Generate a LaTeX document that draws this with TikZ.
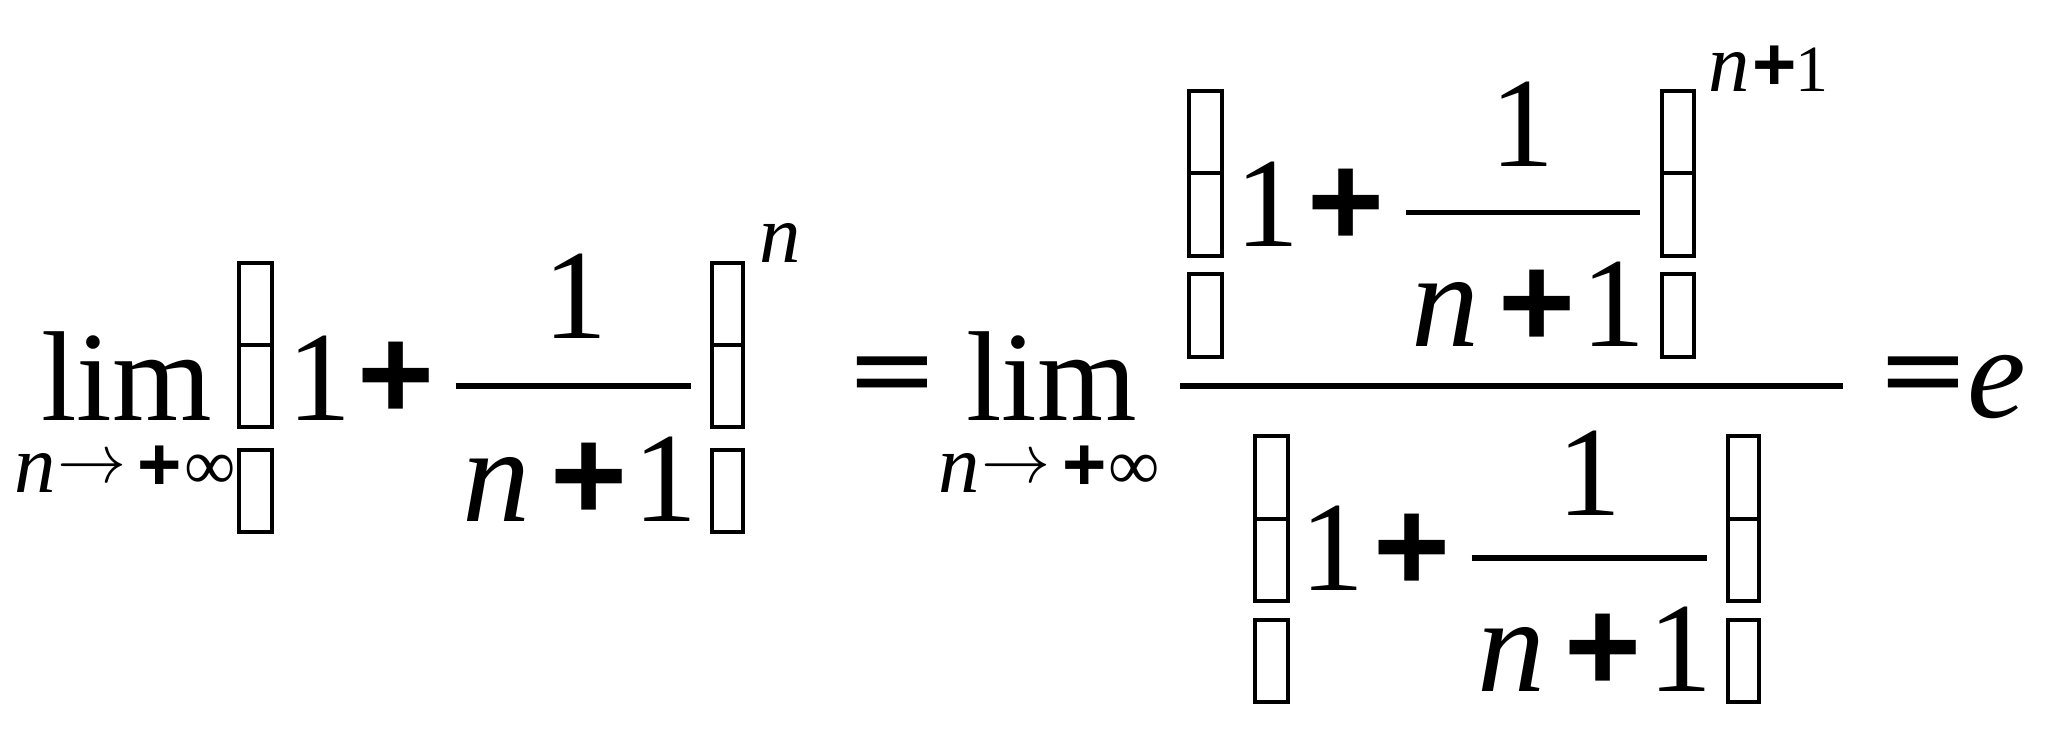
\documentclass[tikz,border=0pt]{standalone}
\usepackage{fontspec}
\setmainfont{Liberation Serif}
\newfontfamily\plusfamily{Liberation Sans}
\newfontfamily\eqfamily{DejaVu Serif}
\newcommand\fDig{\fontsize{32}{32}\selectfont}
\newcommand\fN{\fontsize{34}{34}\selectfont\itshape}
\newcommand\fE{\fontsize{33}{33}\selectfont\itshape}
\newcommand\fPlus{\fontsize{33}{33}\selectfont\plusfamily\bfseries}
\newcommand\fEq{\fontsize{28}{28}\selectfont\eqfamily}
\newcommand\fSmN{\fontsize{20.7}{20.7}\selectfont\itshape}
\newcommand\fSmPlus{\fontsize{19}{19}\selectfont\plusfamily\bfseries}
\newcommand\fSmSym{\fontsize{18}{18}\selectfont}
\newcommand\fArr{\fontsize{17.28}{17.28}\selectfont}
\newcommand\fSupOne{\fontsize{16.5}{16.5}\selectfont}
\begin{document}
\begin{tikzpicture}[x=0.3282pt,y=-0.3282pt,
  tx/.style={inner sep=0pt,outer sep=0pt,anchor=base},
  sym/.style={inner sep=0pt,outer sep=0pt,anchor=center},
  tofu/.style={draw,line width=1pt},
  fbar/.style={line width=1.3pt},
  mbar/.style={line width=1.6pt}]
\useasboundingbox (0,0) rectangle (1560,560.6);
% ---------- left expression ----------
\node[tx,font=\fDig] (limA) at (96.5,320) {lim};
\node[tx,font=\fSmN] (subnA) at (27,375) {n};
\node[sym,font=\fArr] (arrA) at (70,358) {$\rightarrow$};
\node[sym,font=\fSmPlus] (plA) at (121.5,357) {+};
\node[sym,font=\fSmSym] (infA) at (160,360) {∞};
\draw[tofu] (182,200) rectangle (207,263) (182,263) rectangle (207,325) (182,343) rectangle (207,405);
\node[tx,font=\fDig] (oneA) at (243.5,320) {1};
\node[sym,font=\fPlus] (plusA) at (302,290) {+};
\coordinate (barAl) at (347,294);
\coordinate (barAr) at (526,294);
\draw[fbar] (barAl) -- (barAr);
\node[tx,font=\fDig] (numA) at (438.5,258) {1};
\node[tx,font=\fN] (denAn) at (378.5,397) {n};
\node[sym,font=\fPlus] (denAp) at (448.5,367) {+};
\node[tx,font=\fDig] (denA1) at (507,397) {1};
\draw[tofu] (542,200) rectangle (566,263) (542,263) rectangle (566,325) (542,343) rectangle (566,405);
\node[tx,font=\fSmN] (supA) at (594,200) {n};
% ---------- middle ----------
\node[sym,font=\fEq] (eqA) at (680,291) {=};
\node[tx,font=\fDig] (limB) at (801,320) {lim};
\node[tx,font=\fSmN] (subnB) at (731,375) {n};
\node[sym,font=\fArr] (arrB) at (774,358) {$\rightarrow$};
\node[sym,font=\fSmPlus] (plB) at (826,357) {+};
\node[sym,font=\fSmSym] (infB) at (864,360) {∞};
\coordinate (mbarl) at (899,294);
\coordinate (mbarr) at (1404,294);
\draw[mbar] (mbarl) -- (mbarr);
% numerator
\draw[tofu] (906,69) rectangle (931,132) (906,132) rectangle (931,195) (906,209) rectangle (931,272);
\node[tx,font=\fDig] (oneB) at (965.5,188) {1};
\node[sym,font=\fPlus] (plusB) at (1025,158) {+};
\coordinate (barBl) at (1071,162);
\coordinate (barBr) at (1249,162);
\draw[fbar] (barBl) -- (barBr);
\node[tx,font=\fDig] (numB) at (1160,127) {1};
\node[tx,font=\fN] (denBn) at (1101,264) {n};
\node[sym,font=\fPlus] (denBp) at (1170.5,235) {+};
\node[tx,font=\fDig] (denB1) at (1229,264) {1};
\draw[tofu] (1266,69) rectangle (1290,132) (1266,132) rectangle (1290,195) (1266,209) rectangle (1290,272);
\node[tx,font=\fSmN] (supBn) at (1317.5,70) {n};
\node[sym,font=\fSmPlus] (supBp) at (1351.5,52) {+};
\node[tx,font=\fSupOne] (supB1) at (1380,70) {1};
% denominator
\draw[tofu] (956,332) rectangle (981,395) (956,395) rectangle (981,458) (956,472) rectangle (981,535);
\node[tx,font=\fDig] (oneC) at (1015,450) {1};
\node[sym,font=\fPlus] (plusC) at (1075.5,421) {+};
\coordinate (barCl) at (1121,425);
\coordinate (barCr) at (1300,425);
\draw[fbar] (barCl) -- (barCr);
\node[tx,font=\fDig] (numC) at (1211,393) {1};
\node[tx,font=\fN] (denCn) at (1151.5,527) {n};
\node[sym,font=\fPlus] (denCp) at (1221,497) {+};
\node[tx,font=\fDig] (denC1) at (1280,527) {1};
\draw[tofu] (1316,332) rectangle (1340,395) (1316,395) rectangle (1340,458) (1316,472) rectangle (1340,535);
% ---------- right ----------
\node[sym,font=\fEq] (eqB) at (1465,291) {=};
\node[tx,font=\fE] (eC) at (1521,318) {e};
\end{tikzpicture}
\end{document}
